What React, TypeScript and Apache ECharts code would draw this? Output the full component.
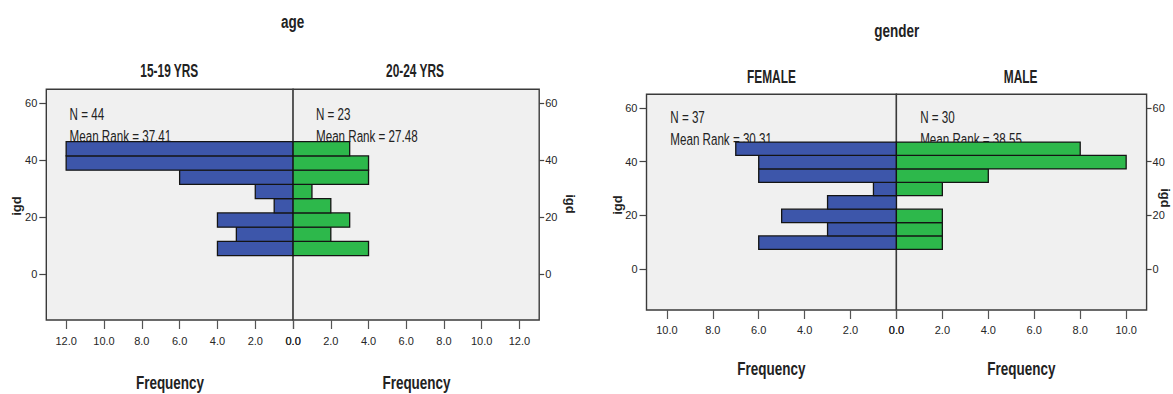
import React, { useEffect, useRef } from "react";
import * as echarts from "echarts";

// ---- data ----
const ageGroups = ["15-19 YRS", "20-24 YRS"];
const genderGroups = ["FEMALE", "MALE"];
// igd bins (lower edges, bottom to top), width 5
const ageBinLow = [6.5, 11.5, 16.5, 21.5, 26.5, 31.5, 36.5, 41.5];
const genderBinLow = [7.3, 12.3, 17.3, 22.3, 27.3, 32.3, 37.3, 42.3];
const binWidth = 5;
const freq1519 = [4, 3, 4, 1, 2, 6, 12, 12];
const freq2024 = [4, 2, 3, 2, 1, 4, 4, 3];
const freqFemale = [6, 3, 5, 3, 1, 6, 6, 7];
const freqMale = [2, 2, 2, 0, 2, 4, 10, 8];
const ageStats = [
  { n: 44, meanRank: "37.41" },
  { n: 23, meanRank: "27.48" },
];
const genderStats = [
  { n: 37, meanRank: "30.31" },
  { n: 30, meanRank: "38.55" },
];
const igdTicks = [0, 20, 40, 60];
const ageFreqTicks = [0, 2, 4, 6, 8, 10, 12];
const genderFreqTicks = [0, 2, 4, 6, 8, 10];

const BLUE = "#3D56AA";
const GREEN = "#2DB84B";
const FONT = "'Liberation Sans', Arial, sans-serif";
const SY = 1.33; // vertical stretch of the reference's lettering

export default function App() {
  const ref = useRef<HTMLDivElement>(null);
  useEffect(() => {
    if (!ref.current) return;
    const chart = echarts.init(ref.current, undefined, { renderer: "svg" });

    const grids = [
      { left: 46.3, top: 89.3, width: 246.8, height: 230.7 },
      { left: 293.1, top: 89.3, width: 246.1, height: 230.7 },
      { left: 646.5, top: 94.3, width: 249.9, height: 215.7 },
      { left: 896.4, top: 94.3, width: 250.2, height: 215.7 },
    ].map((g) => ({
      ...g,
      show: true,
      backgroundColor: "#F0F0F0",
      borderColor: "#3a3a3a",
      borderWidth: 1.4,
      containLabel: false,
      z: 0,
    }));

    const xRanges = [13.05, 13.05, 10.89, 10.89];
    const yRanges = [
      [-16.1, 64.9],
      [-16.1, 64.9],
      [-15.3, 65.1],
      [-15.3, 65.1],
    ];
    const xTicks = [ageFreqTicks, ageFreqTicks, genderFreqTicks, genderFreqTicks];
    const xMargins = [15.5, 15.5, 14.5, 14.5];

    const xAxis = grids.map((_, i) => ({
      type: "value",
      gridIndex: i,
      position: "bottom",
      min: 0,
      max: xRanges[i],
      inverse: i % 2 === 0,
      axisLine: { show: false, onZero: false },
      splitLine: { show: false },
      axisTick: { show: true, length: 9, customValues: xTicks[i], lineStyle: { color: "#555", width: 1.2 } },
      axisLabel: {
        show: true,
        customValues: xTicks[i],
        formatter: (v: number) => v.toFixed(1),
        margin: xMargins[i],
        color: "#262626",
        fontFamily: FONT,
        fontSize: 11,
      },
    }));

    const yAxis = grids.map((_, i) => ({
      type: "value",
      gridIndex: i,
      position: i % 2 === 0 ? "left" : "right",
      min: yRanges[i][0],
      max: yRanges[i][1],
      axisLine: { show: false, onZero: false },
      splitLine: { show: false },
      axisTick: {
        show: true,
        length: i % 2 === 0 ? 7 : 5,
        customValues: igdTicks,
        lineStyle: { color: "#444", width: 1.2 },
      },
      axisLabel: {
        show: true,
        customValues: igdTicks,
        margin: i % 2 === 0 ? 9 : 6,
        color: "#262626",
        fontFamily: FONT,
        fontSize: 11,
      },
    }));

    const mk = (low: number[], freq: number[]) =>
      low.map((l, k) => [l, l + binWidth, freq[k]]);

    const renderBar = (color: string) => (params: any, api: any) => {
      const lo = api.value(0);
      const hi = api.value(1);
      const n = api.value(2);
      if (!n) return null;
      const p1 = api.coord([0, hi]);
      const p2 = api.coord([n, lo]);
      return {
        type: "rect",
        shape: {
          x: Math.min(p1[0], p2[0]),
          y: p1[1],
          width: Math.abs(p2[0] - p1[0]),
          height: p2[1] - p1[1],
        },
        style: { fill: color, stroke: "#141414", lineWidth: 1.3 },
      };
    };

    const seriesData = [
      mk(ageBinLow, freq1519),
      mk(ageBinLow, freq2024),
      mk(genderBinLow, freqFemale),
      mk(genderBinLow, freqMale),
    ];
    const series = seriesData.map((d, i) => ({
      type: "custom",
      xAxisIndex: i,
      yAxisIndex: i,
      data: d,
      z: 5,
      encode: { x: 2, y: [0, 1] },
      renderItem: renderBar(i % 2 === 0 ? BLUE : GREEN),
      silent: true,
    }));

    const bold = (text: string, x: number, y: number, size = 13.5, sx = 1) => ({
      type: "text",
      x,
      y,
      scaleX: sx,
      scaleY: SY,
      style: {
        text,
        fill: "#222",
        font: `bold ${size}px ${FONT}`,
        textAlign: "center",
        textVerticalAlign: "middle",
      },
    });
    const vert = (text: string, x: number, y: number, rotation: number) => ({
      type: "text",
      x,
      y,
      rotation,
      style: {
        text,
        fill: "#222",
        font: `bold 13px ${FONT}`,
        textAlign: "center",
        textVerticalAlign: "middle",
      },
    });
    const stat = (s: { n: number; meanRank: string }, x: number, y: number) => ({
      type: "text",
      x,
      y,
      z: 1,
      scaleX: 0.93,
      scaleY: 1.35,
      style: {
        text: `N = ${s.n}\nMean Rank = ${s.meanRank}`,
        fill: "#222",
        font: `12.5px ${FONT}`,
        lineHeight: 16.6,
        textAlign: "left",
        textVerticalAlign: "top",
      },
    });

    const graphic = [
      bold("age", 292.7, 22),
      bold(ageGroups[0], 169.3, 71, 13.5, 0.88),
      bold(ageGroups[1], 415, 71, 13.5, 0.88),
      bold("Frequency", 170, 383),
      bold("Frequency", 416.5, 383),
      vert("igd", 16, 206, Math.PI / 2),
      vert("igd", 570, 204, -Math.PI / 2),
      bold("gender", 896.7, 31),
      bold(genderGroups[0], 771.4, 77, 13.5, 0.88),
      bold(genderGroups[1], 1020.6, 77, 13.5, 0.88),
      bold("Frequency", 771.4, 369),
      bold("Frequency", 1021.3, 369),
      vert("igd", 617, 205, Math.PI / 2),
      vert("igd", 1165, 198, -Math.PI / 2),
      stat(ageStats[0], 69.6, 103),
      stat(ageStats[1], 316, 103),
      stat(genderStats[0], 670.3, 106),
      stat(genderStats[1], 920.2, 106),
    ];

    chart.setOption({
      animation: false,
      backgroundColor: "#fff",
      grid: grids,
      xAxis,
      yAxis,
      series,
      graphic: { elements: graphic, z: 1 },
    });
    return () => chart.dispose();
  }, []);
  return (
    <div
      ref={ref}
      style={{ position: "fixed", left: 0, top: 0, width: 1173, height: 394 }}
    />
  );
}
